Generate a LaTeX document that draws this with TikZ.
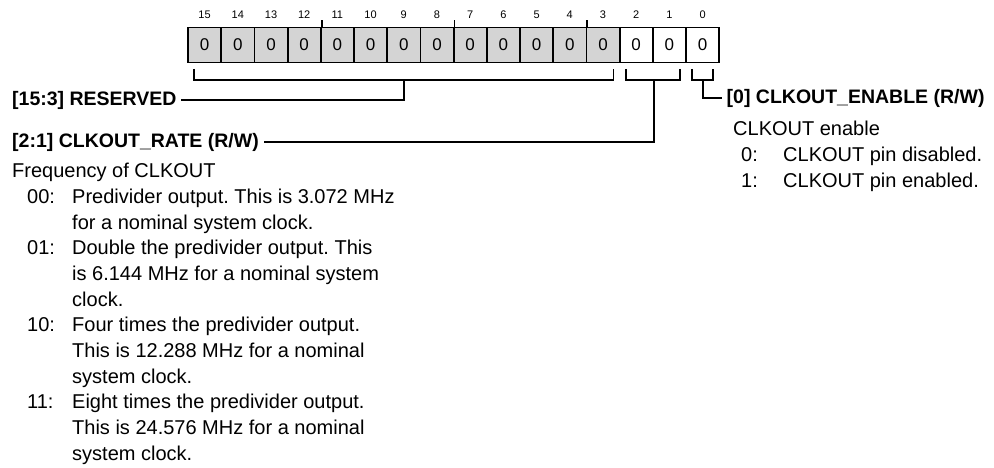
\documentclass[tikz,border=0pt]{standalone}
\usepackage{fontspec}
\setmainfont{Liberation Sans}
\usepackage{xcolor}
\usepackage{tikz}
\usetikzlibrary{positioning, calc}
\frenchspacing
\definecolor{resvgray}{RGB}{212,212,212}
\newcommand{\valrow}[1]{\hspace*{15pt}\makebox[45pt][l]{#1}}
\newcommand{\controw}{\hspace*{60pt}}
\newcommand{\bitrow}[1]{\hspace*{8pt}\makebox[42pt][l]{#1}}
\tikzset{
  cell/.style={draw, line width=1.8pt, minimum width=33.2pt, minimum height=35pt, inner sep=0pt, font=\fontsize{17}{17}\selectfont},
  bitnum/.style={inner sep=0pt, font=\fontsize{11}{11}\selectfont},
  brk/.style={line width=1.8pt},
  head/.style={anchor=west, inner sep=4.5pt, font=\fontsize{19.5}{22}\selectfont\bfseries},
  desc/.style={anchor=north west, align=left, inner sep=0pt, font=\fontsize{20}{25.7}\selectfont}
}

\begin{document}
\begin{tikzpicture}[x=1pt, y=-1pt]
        \useasboundingbox (0,0) rectangle (994,467);

        % Register cells
        \foreach \b in {15,...,3}
            \node[cell, fill=resvgray] (b\b) at ({188+(15-\b)*33.2+16.6}, 45) {0};
        \foreach \b in {2,1,0}
            \node[cell, fill=white] (b\b) at ({188+(15-\b)*33.2+16.6}, 45) {0};

        % Bit numbers and nibble ticks
        \foreach \b in {15,...,0}
            \node[bitnum] (n\b) at ([yshift=30pt]b\b.center) {\b};
        \foreach \b in {12,8,4}
            \draw[brk] (b\b.north east) -- ++(0,-7);

        % Field brackets
        \draw[brk] ([shift={(7pt,-5.5pt)}]b15.south west) -- ++(0,11) -| ([shift={(-7pt,-5.5pt)}]b3.south east);
        \draw[brk] ([shift={(7pt,-5.5pt)}]b2.south west) -- ++(0,11) -| ([shift={(-7pt,-5.5pt)}]b1.south east);
        \draw[brk] ([shift={(7pt,-5.5pt)}]b0.south west) -- ++(0,11) -| ([shift={(-7pt,-5.5pt)}]b0.south east);
        \coordinate (resvstem) at ([yshift=-16.5pt]b9.south);
        \coordinate (ratestem) at ([yshift=-16.5pt]b2.south east);
        \coordinate (enastem) at ([yshift=-16.5pt]b0.south);

        % Field labels
        \node[head] (resv) at (7.5,100) {[15:3] RESERVED};
        \node[head] (rate) at (7.5,142) {[2:1] CLKOUT\_RATE (R/W)};
        \node[head] (ena) at (722,98) {[0] CLKOUT\_ENABLE (R/W)};
        \draw[brk] (resvstem) |- (resv.east);
        \draw[brk] (ratestem) |- (rate.east);
        \draw[brk] (enastem) |- (ena.west);

        % Descriptions
        \node[desc] (ratetxt) at (12,163) {Frequency of CLKOUT\\
            \valrow{00:}Predivider output. This is 3.072 MHz\\
            \controw for a nominal system clock.\\
            \valrow{01:}Double the predivider output. This\\
            \controw is 6.144 MHz for a nominal system\\
            \controw clock.\\
            \valrow{10:}Four times the predivider output.\\
            \controw This is 12.288 MHz for a nominal\\
            \controw system clock.\\
            \valrow{11:}Eight times the predivider output.\\
            \controw This is 24.576 MHz for a nominal\\
            \controw system clock.};
        \node[desc] (enatxt) at (733,121) {CLKOUT enable\\
            \bitrow{0:}CLKOUT pin disabled.\\
            \bitrow{1:}CLKOUT pin enabled.};
    \end{tikzpicture}
\end{document}
